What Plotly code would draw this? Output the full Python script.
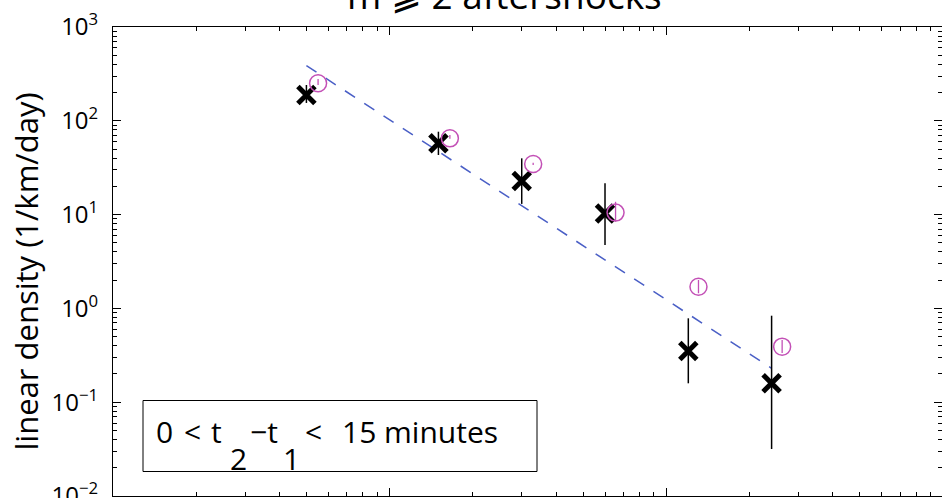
import plotly.graph_objects as go

# ---- data ----
dist_obs = [0.05, 0.15, 0.3, 0.6, 1.2, 2.4]            # km
dens_obs = [188, 57.5, 22.8, 10.3, 0.351, 0.159]        # 1/km/day
dens_obs_hi = [241, 76.5, 39.8, 21.6, 0.784, 0.836]
dens_obs_lo = [155, 43.2, 13.0, 4.74, 0.159, 0.0317]

dist_alt = [0.0551, 0.165, 0.330, 0.655, 1.306, 2.62]
dens_alt = [251, 65, 34.6, 10.5, 1.70, 0.391]
dens_alt_hi = [279, 70.6, 35.7, 13.7, 2.01, 0.46]
dens_alt_lo = [241, 64.5, 33.8, 8.4, 1.45, 0.335]

fit_x = [0.05, 2.4]
fit_y = [387, 0.230]

y_tickvals = [0.01, 0.1, 1, 10, 100, 1000]
y_ticktext = ["10<sup>−2</sup>", "10<sup>−1</sup>", "10<sup>0</sup>",
              "10<sup>1</sup>", "10<sup>2</sup>", "10<sup>3</sup>"]
minor_digits = [2, 3, 4, 5, 6, 7, 8, 9]
x_decades = [0.01, 0.1, 1]
y_decades = [0.01, 0.1, 1, 10, 100]

title_text = "m ⩾ 2 aftershocks"
ytitle_text = "linear density (1/km/day)"
# boxed label pieces: (text, left pixel, is_subscript)
box_pieces = [("0", 154, False), ("<", 182, False), ("t", 209, False),
              ("2", 228, True), ("−t", 248, False), ("1", 281, True),
              ("<", 303, False), ("15 minutes", 340, False)]

FONT = "Open Sans"
BLUE = "#4a5fc6"
MAGENTA = "#c350b6"

def plus(v, hi):
    return [h - a for a, h in zip(v, hi)]

def minus(v, lo):
    return [a - l for a, l in zip(v, lo)]

fig = go.Figure()

fig.add_trace(go.Scatter(
    x=fit_x, y=fit_y, mode="lines",
    line=dict(color=BLUE, width=1.5, dash="12px,11px"),
    hoverinfo="skip", showlegend=False))

fig.add_trace(go.Scatter(
    x=dist_obs, y=dens_obs, mode="markers",
    marker=dict(symbol="x-thin", size=17, line=dict(width=5, color="black"), color="black"),
    error_y=dict(type="data", symmetric=False,
                 array=plus(dens_obs, dens_obs_hi),
                 arrayminus=minus(dens_obs, dens_obs_lo),
                 color="black", thickness=1.5, width=0),
    showlegend=False))

fig.add_trace(go.Scatter(
    x=dist_alt, y=dens_alt, mode="markers",
    marker=dict(symbol="circle-open", size=17, line=dict(width=1.5, color=MAGENTA), color=MAGENTA),
    error_y=dict(type="data", symmetric=False,
                 array=plus(dens_alt, dens_alt_hi),
                 arrayminus=minus(dens_alt, dens_alt_lo),
                 color=MAGENTA, thickness=1.3, width=0),
    showlegend=False))

L, R, T, B = 113, 0, 27, 2
W, H = 942, 498
pw = W - L - R
ph = H - T - B

def px_x(p):
    return (p - L) / pw

def px_y(p):
    return (H - B - p) / ph

fig.update_layout(
    width=W, height=H,
    margin=dict(l=L, r=R, t=T, b=B, pad=0, autoexpand=False),
    paper_bgcolor="white", plot_bgcolor="white",
    font=dict(family=FONT, color="black"),
    showlegend=False,
)

x_minor = [d * m for d in x_decades for m in minor_digits]
y_minor = [d * m for d in y_decades for m in minor_digits]

fig.update_xaxes(
    type="log", range=[-2, -2 + pw / 276.7], automargin=False,
    showgrid=False, zeroline=False,
    showline=True, linecolor="black", linewidth=1, mirror="ticks",
    ticks="inside", ticklen=8, tickwidth=1, tickcolor="black",
    tickmode="array", tickvals=[0.01, 0.1, 1, 10], showticklabels=False,
    minor=dict(ticks="inside", ticklen=4, tickwidth=1, tickcolor="black",
               tickmode="array", tickvals=x_minor, showgrid=False),
)

fig.update_yaxes(
    type="log", range=[-2, 3], automargin=False,
    showgrid=False, zeroline=False,
    showline=True, linecolor="black", linewidth=1, mirror="ticks",
    ticks="inside", ticklen=8, tickwidth=1, tickcolor="black",
    tickmode="array", tickvals=y_tickvals, ticktext=y_ticktext,
    tickfont=dict(family=FONT, size=24, color="black"),
    ticklabelstandoff=9, ticklabeloverflow="allow",
    minor=dict(ticks="inside", ticklen=4, tickwidth=1, tickcolor="black",
               tickmode="array", tickvals=y_minor, showgrid=False),
)

# title (partly cut off at top)
fig.add_annotation(
    text=title_text, xref="paper", yref="paper",
    x=px_x(504), y=1, xanchor="center", yanchor="bottom", yshift=5,
    showarrow=False, font=dict(family=FONT, size=37, color="black"))

# y axis title
fig.add_annotation(
    text=ytitle_text, xref="paper", yref="paper",
    x=px_x(25), y=px_y(271.5), xanchor="center", yanchor="middle",
    textangle=-90, showarrow=False, font=dict(family=FONT, size=31, color="black"))

# boxed label
fig.add_shape(type="rect", xref="paper", yref="paper",
              x0=px_x(143), x1=px_x(537),
              y0=px_y(471.5), y1=px_y(400.5),
              line=dict(color="black", width=1), fillcolor="white", layer="above")
for txt, left, is_sub in box_pieces:
    fig.add_annotation(
        text=txt, xref="paper", yref="paper",
        x=px_x(left), y=px_y(458 if is_sub else 431), xanchor="left", yanchor="middle",
        showarrow=False, font=dict(family=FONT, size=30, color="black"))

fig.write_html("out.html",
               config={"displayModeBar": False},
               post_script="document.body.style.margin='0';document.body.style.padding='0';")
